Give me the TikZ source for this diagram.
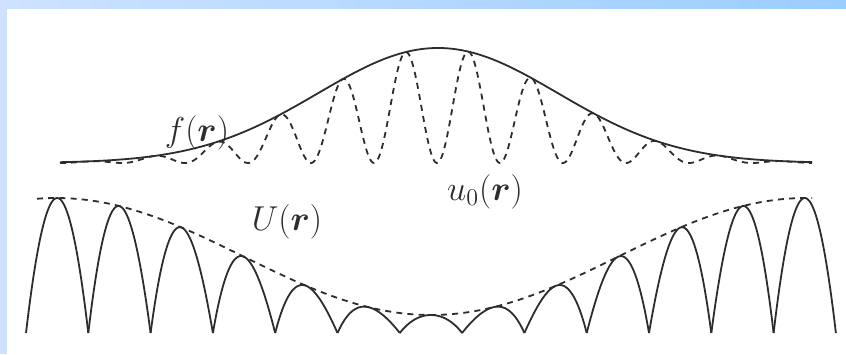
\documentclass[tikz,border=0pt]{standalone}
\usepackage{amsmath,amssymb}
\usepackage{tikz}
\definecolor{bandleft}{RGB}{206,226,255}
\definecolor{bandright}{RGB}{155,205,255}
\definecolor{ink}{RGB}{45,45,45}

\begin{document}
\begin{tikzpicture}[x=0.5pt,y=-0.5pt,
  curve/.style={line width=0.9pt,draw=ink},
  dashcurve/.style={curve,dash pattern=on 3pt off 2.6pt},
  lbl/.style={font=\fontsize{17}{19}\selectfont,text=ink,inner sep=0pt}]
\useasboundingbox (0,0) rectangle (846,354);
\fill[white] (0,0) rectangle (846,354);
\shade[left color=bandleft,right color=bandright] (0,0) rectangle (846,8);
\fill[bandleft] (0,0) rectangle (7,354);
\draw[curve] plot[domain=60:812,samples=160] (\x,{163-115*exp(-0.5*((\x-438)/120)^2)});
\draw[dashcurve] plot[domain=60:812,samples=600] (\x,{163-115*exp(-0.5*((\x-438)/120)^2)*0.5*(1-cos((\x-437)/63*360))});
\draw[dashcurve] plot[domain=37:812,samples=150] (\x,{198+58.5*(1+cos((\x-431)/375*180))});
\foreach \k [evaluate=\k as \a using 26+62.3*\k, evaluate=\k as \b using 26+62.3*(\k+1)] in {0,...,12}
  \draw[curve] plot[domain=\a:\b,samples=45] (\x,{333-(135-58.5*(1+cos((\x-431)/375*180)))*4*((\x-\a)/62.3)*(1-(\x-\a)/62.3)});
\node[lbl] (flabel) at (197,133) {$f(\boldsymbol{r})$};
\node[lbl] (ulabel) at (485,192) {$u_0(\boldsymbol{r})$};
\node[lbl] (Ulabel) at (287,222) {$U(\boldsymbol{r})$};
\end{tikzpicture}
\end{document}
